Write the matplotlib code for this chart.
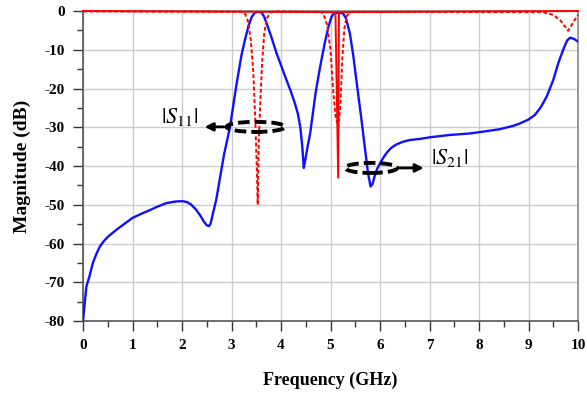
import matplotlib.pyplot as plt
from matplotlib.patches import Ellipse
from matplotlib.ticker import MultipleLocator

# |S21| (blue, solid)
freq_s21 = [0.00, 0.03, 0.07, 0.13, 0.20, 0.27, 0.34, 0.42, 0.50, 0.67,
            0.85, 1.00, 1.20, 1.35, 1.50, 1.68, 1.85, 1.95, 2.02, 2.10,
            2.18, 2.28, 2.36, 2.44, 2.50, 2.55, 2.58, 2.62, 2.69, 2.76,
            2.85, 2.97, 3.10, 3.20, 3.27, 3.34, 3.41, 3.47, 3.54, 3.61,
            3.66, 3.71, 3.80, 3.91, 4.00, 4.11, 4.20, 4.28, 4.34, 4.39,
            4.43, 4.46, 4.49, 4.53, 4.59, 4.70, 4.79, 4.88, 4.96, 5.02,
            5.07, 5.15, 5.25, 5.31, 5.39, 5.46, 5.53, 5.62, 5.70, 5.76,
            5.81, 5.85, 5.89, 5.94, 6.00, 6.07, 6.14, 6.22, 6.32, 6.45,
            6.60, 6.81, 7.00, 7.40, 7.82, 8.10, 8.42, 8.70, 8.83, 9.00,
            9.13, 9.25, 9.37, 9.50, 9.60, 9.70, 9.78, 9.84, 9.92, 10.00]
s21_db = [-80.0, -76.0, -71.0, -68.5, -65.0, -62.7, -60.8, -59.4, -58.3, -56.5,
          -54.8, -53.4, -52.2, -51.4, -50.5, -49.6, -49.2, -49.1, -49.1, -49.3,
          -49.9, -51.2, -52.6, -54.3, -55.3, -55.5, -54.8, -52.5, -48.8, -43.6,
          -37.0, -29.9, -19.0, -11.5, -7.5, -4.0, -1.5, -0.4, -0.2, -0.4,
          -1.5, -3.2, -6.5, -10.9, -14.0, -17.8, -20.8, -23.8, -26.5, -30.0,
          -35.0, -40.5, -38.5, -35.5, -31.5, -21.0, -14.4, -8.5, -4.0, -1.5,
          -0.6, -0.4, -0.6, -1.8, -5.7, -11.5, -18.6, -27.5, -35.9, -42.0,
          -45.3, -44.6, -42.7, -40.8, -39.3, -37.8, -36.5, -35.4, -34.5, -33.8,
          -33.3, -33.0, -32.6, -32.0, -31.6, -31.1, -30.5, -29.6, -29.0, -28.0,
          -26.8, -24.8, -22.0, -17.8, -13.5, -10.0, -7.6, -6.9, -7.2, -7.9]

# |S11| (red, solid trace with narrow spike)
freq_s11_solid = [0.00, 5.10, 5.155, 5.17, 10.00]
s11_solid_db = [0.0, -0.3, -43.0, -0.3, 0.0]

# |S11| (red, dashed trace)
freq_s11_dash = [0.00, 3.20, 3.27, 3.33, 3.39, 3.44, 3.48, 3.51, 3.53, 3.55,
                 3.58, 3.62, 3.66, 3.71, 3.78, 3.85, 4.80, 4.86, 4.93, 5.00,
                 5.05, 5.10, 5.16, 5.20, 5.24, 5.28, 5.33, 5.42, 9.30, 9.50,
                 9.65, 9.80, 9.90, 10.00]
s11_dash_db = [-0.1, -0.2, -0.6, -2.5, -7.5, -15.7, -28.0, -40.0, -50.0, -34.0,
               -24.0, -13.0, -6.0, -2.0, -0.5, -0.1, -0.2, -0.8, -3.5, -10.0,
               -20.0, -27.0, -30.0, -24.0, -12.0, -4.5, -1.2, -0.2, -0.3, -1.0,
               -2.5, -5.1, -3.0, -1.0]

plt.rcParams['font.family'] = 'Liberation Serif'
plt.rcParams['axes.unicode_minus'] = False
plt.rcParams['mathtext.fontset'] = 'stix'

fig = plt.figure(figsize=(5.87, 3.96), dpi=100)
ax = fig.add_axes([0.1414, 0.1894, 0.8433, 0.7828])

ax.plot(freq_s21, s21_db, color='#1010ff', lw=1.7, zorder=3)
ax.plot(freq_s11_solid, s11_solid_db, color='red', lw=1.4, zorder=4, clip_on=False)
ax.plot(freq_s11_dash, s11_dash_db, color='red', lw=1.4, ls=(0, (2, 1.2)), zorder=4, clip_on=False)

ax.set_xlim(0, 10)
ax.set_ylim(-80, 0)
ax.xaxis.set_major_locator(MultipleLocator(1))
ax.xaxis.set_minor_locator(MultipleLocator(0.5))
ax.yaxis.set_major_locator(MultipleLocator(10))
ax.yaxis.set_minor_locator(MultipleLocator(5))
ax.grid(True, which='major', color='#cccccc', lw=1)
ax.set_axisbelow(True)
ax.tick_params(which='major', direction='out', length=7, width=1, color='#333333', labelsize=11, pad=6)
ax.tick_params(which='minor', direction='out', length=4, width=1, color='#333333')
for lbl in ax.get_xticklabels() + ax.get_yticklabels():
    lbl.set_fontweight('bold')
for s in ax.spines.values():
    s.set_color('#555555')
    s.set_linewidth(1.2)
ax.spines['top'].set_color('#888888')
ax.spines['right'].set_color('#888888')

ax.set_xlabel('Frequency (GHz)', fontsize=13, fontweight='bold', labelpad=14)
ax.set_ylabel('Magnitude (dB)', fontsize=14, fontweight='bold', labelpad=10)

# annotations
ax.add_patch(Ellipse((3.49, -29.9), 1.18, 2.6, fill=False, ec='black', lw=2.8, ls=(0, (3, 1.3)), zorder=5))
ax.annotate('', xy=(2.40, -29.9), xytext=(2.90, -29.9),
            arrowprops=dict(arrowstyle='-|>', color='black', lw=2, mutation_scale=12), zorder=5)
ax.text(2.32, -27.4, r'$|S_{11}|$', fontsize=16, ha='right', va='center')

ax.add_patch(Ellipse((5.82, -40.5), 1.05, 2.6, fill=False, ec='black', lw=2.8, ls=(0, (3, 1.3)), zorder=5))
ax.annotate('', xy=(6.94, -40.5), xytext=(6.34, -40.5),
            arrowprops=dict(arrowstyle='-|>', color='black', lw=2, mutation_scale=12), zorder=5)
ax.text(7.02, -38.0, r'$|S_{21}|$', fontsize=16, ha='left', va='center')

fig.savefig('out.png', dpi=100)
